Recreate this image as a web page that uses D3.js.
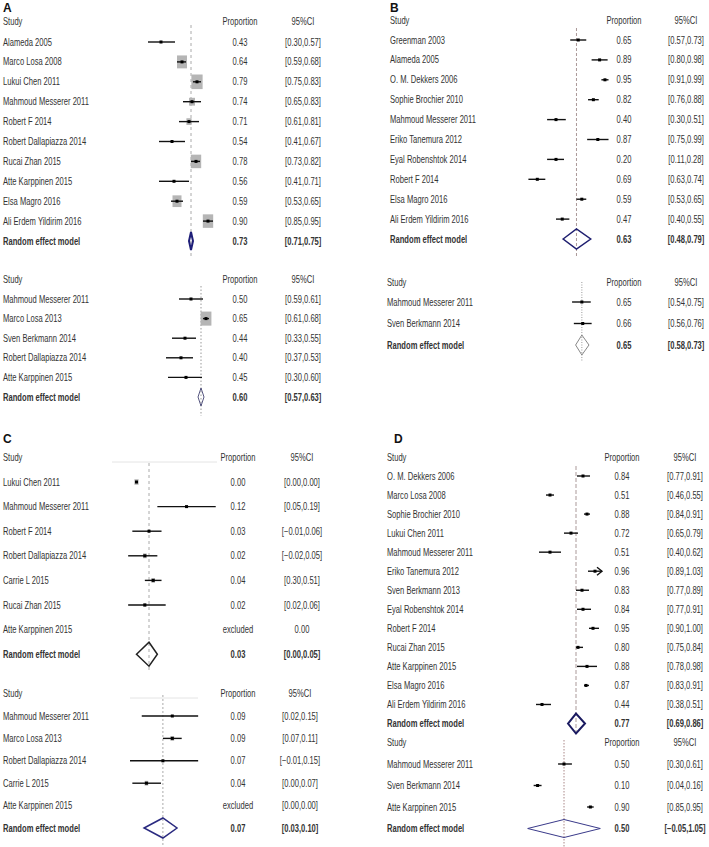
<!DOCTYPE html>
<html>
<head>
<meta charset="utf-8">
<script src="https://cdn.jsdelivr.net/npm/d3@7"></script>
<style>
  body { margin: 0; background: #fff; }
  text { font-family: "Liberation Sans", Arial, sans-serif; font-size: 10px; fill: #333; }
  .panel-label { font-weight: bold; font-size: 12px; fill: #111; }
</style>
</head>
<body>
<div id="chart"></div>
<script>
// ---- data ----
// plotted values (est/lo/hi) are where the marks sit; prop/ci are the printed columns

// A, upper
const aTopStudy = ['Alameda 2005', 'Marco Losa 2008', 'Lukui Chen 2011', 'Mahmoud Messerer 2011', 'Robert F 2014',
  'Robert Dallapiazza 2014', 'Rucai Zhan 2015', 'Atte Karppinen 2015', 'Elsa Magro 2016', 'Ali Erdem Yildirim 2016']
const aTopEst = [0.43, 0.64, 0.79, 0.74, 0.71, 0.54, 0.78, 0.56, 0.59, 0.90]
const aTopLo = [0.30, 0.59, 0.75, 0.65, 0.61, 0.41, 0.73, 0.41, 0.53, 0.85]
const aTopHi = [0.57, 0.68, 0.83, 0.83, 0.81, 0.67, 0.82, 0.71, 0.65, 0.95]
const aTopWt = [0, 11, 14, 4, 3, 0, 12, 0, 9, 12]
const aTopProp = ['0.43', '0.64', '0.79', '0.74', '0.71', '0.54', '0.78', '0.56', '0.59', '0.90']
const aTopCI = ['[0.30,0.57]', '[0.59,0.68]', '[0.75,0.83]', '[0.65,0.83]', '[0.61,0.81]',
  '[0.41,0.67]', '[0.73,0.82]', '[0.41,0.71]', '[0.53,0.65]', '[0.85,0.95]']
const aTopPooled = [0.73, 0.71, 0.75]
const aTopPooledText = ['0.73', '[0.71,0.75]']

// A, lower
const aBotStudy = ['Mahmoud Messerer 2011', 'Marco Losa 2013', 'Sven Berkmann 2014', 'Robert Dallapiazza 2014', 'Atte Karppinen 2015']
const aBotEst = [0.50, 0.65, 0.44, 0.40, 0.45]
const aBotLo = [0.38, 0.62, 0.31, 0.25, 0.27]
const aBotHi = [0.62, 0.68, 0.55, 0.52, 0.61]
const aBotWt = [0, 13, 0, 0, 0]
const aBotProp = ['0.50', '0.65', '0.44', '0.40', '0.45']
const aBotCI = ['[0.59,0.61]', '[0.61,0.68]', '[0.33,0.55]', '[0.37,0.53]', '[0.30,0.60]']
const aBotPooled = [0.60, 0.57, 0.63]
const aBotPooledText = ['0.60', '[0.57,0.63]']

// B, upper
const bTopStudy = ['Greenman 2003', 'Alameda 2005', 'O. M. Dekkers 2006', 'Sophie Brochier 2010', 'Mahmoud Messerer 2011',
  'Eriko Tanemura 2012', 'Eyal Robenshtok 2014', 'Robert F 2014', 'Elsa Magro 2016', 'Ali Erdem Yildirim 2016']
const bTopEst = [0.65, 0.89, 0.95, 0.82, 0.40, 0.87, 0.40, 0.19, 0.69, 0.47]
const bTopLo = [0.56, 0.80, 0.91, 0.76, 0.30, 0.75, 0.30, 0.09, 0.63, 0.40]
const bTopHi = [0.74, 0.98, 0.99, 0.88, 0.51, 0.99, 0.49, 0.28, 0.74, 0.55]
const bTopWt = [0, 0, 0, 0, 0, 0, 0, 0, 0, 0]
const bTopProp = ['0.65', '0.89', '0.95', '0.82', '0.40', '0.87', '0.20', '0.69', '0.59', '0.47']
const bTopCI = ['[0.57,0.73]', '[0.80,0.98]', '[0.91,0.99]', '[0.76,0.88]', '[0.30,0.51]',
  '[0.75,0.99]', '[0.11,0.28]', '[0.63,0.74]', '[0.53,0.65]', '[0.40,0.55]']
const bTopPooled = [0.63, 0.48, 0.79]
const bTopPooledText = ['0.63', '[0.48,0.79]']

// B, lower
const bBotStudy = ['Mahmoud Messerer 2011', 'Sven Berkmann 2014']
const bBotEst = [0.65, 0.66]
const bBotLo = [0.54, 0.56]
const bBotHi = [0.75, 0.76]
const bBotWt = [0, 0]
const bBotProp = ['0.65', '0.66']
const bBotCI = ['[0.54,0.75]', '[0.56,0.76]']
const bBotPooled = [0.65, 0.58, 0.73]
const bBotPooledText = ['0.65', '[0.58,0.73]']

// C, upper
const cTopStudy = ['Lukui Chen 2011', 'Mahmoud Messerer 2011', 'Robert F 2014', 'Robert Dallapiazza 2014',
  'Carrie L 2015', 'Rucai Zhan 2015', 'Atte Karppinen 2015']
const cTopEst = [0.00, 0.12, 0.03, 0.02, 0.04, 0.02, null]
const cTopLo = [0.00, 0.05, -0.01, -0.02, 0.02, -0.02, null]
const cTopHi = [0.00, 0.19, 0.06, 0.05, 0.06, 0.07, null]
const cTopWt = [2, 0, 0.5, 1.5, 1.5, 1, 0]
const cTopProp = ['0.00', '0.12', '0.03', '0.02', '0.04', '0.02', 'excluded']
const cTopCI = ['[0.00,0.00]', '[0.05,0.19]', '[\u22120.01,0.06]', '[\u22120.02,0.05]', '[0.30,0.51]', '[0.02,0.06]', '0.00']
const cTopPooled = [0.03, 0.00, 0.05]
const cTopPooledText = ['0.03', '[0.00,0.05]']

// C, lower
const cBotStudy = ['Mahmoud Messerer 2011', 'Marco Losa 2013', 'Robert Dallapiazza 2014', 'Carrie L 2015', 'Atte Karppinen 2015']
const cBotEst = [0.09, 0.09, 0.07, 0.035, null]
const cBotLo = [0.025, 0.07, 0.00, 0.005, null]
const cBotHi = [0.145, 0.11, 0.145, 0.066, null]
const cBotWt = [0, 1.5, 0, 1.5, 0]
const cBotProp = ['0.09', '0.09', '0.07', '0.04', 'excluded']
const cBotCI = ['[0.02,0.15]', '[0.07,0.11]', '[\u22120.01,0.15]', '[0.00,0.07]', '[0.00,0.00]']
const cBotPooled = [0.07, 0.03, 0.10]
const cBotPooledText = ['0.07', '[0.03,0.10]']

// D, upper
const dTopStudy = ['O. M. Dekkers 2006', 'Marco Losa 2008', 'Sophie Brochier 2010', 'Lukui Chen 2011', 'Mahmoud Messerer 2011',
  'Eriko Tanemura 2012', 'Sven Berkmann 2013', 'Eyal Robenshtok 2014', 'Robert F 2014', 'Rucai Zhan 2015',
  'Atte Karppinen 2015', 'Elsa Magro 2016', 'Ali Erdem Yildirim 2016']
const dTopEst = [0.84, 0.51, 0.88, 0.72, 0.51, 0.96, 0.83, 0.84, 0.94, 0.79, 0.88, 0.87, 0.43]
const dTopLo = [0.78, 0.47, 0.85, 0.65, 0.40, 0.89, 0.77, 0.78, 0.90, 0.77, 0.78, 0.85, 0.37]
const dTopHi = [0.91, 0.55, 0.91, 0.79, 0.62, 1.03, 0.90, 0.92, 1.00, 0.84, 0.98, 0.90, 0.52]
const dTopWt = [0, 0, 0, 0, 0, 0, 0, 0, 0, 0, 0, 0, 0]
const dTopProp = ['0.84', '0.51', '0.88', '0.72', '0.51', '0.96', '0.83', '0.84', '0.95', '0.80', '0.88', '0.87', '0.44']
const dTopCI = ['[0.77,0.91]', '[0.46,0.55]', '[0.84,0.91]', '[0.65,0.79]', '[0.40,0.62]', '[0.89,1.03]',
  '[0.77,0.89]', '[0.77,0.91]', '[0.90,1.00]', '[0.75,0.84]', '[0.78,0.98]', '[0.83,0.91]', '[0.38,0.51]']
const dTopArrow = [false, false, false, false, false, true, false, false, false, false, false, false, false]
const dTopPooled = [0.77, 0.69, 0.86]
const dTopPooledText = ['0.77', '[0.69,0.86]']

// D, lower
const dBotStudy = ['Mahmoud Messerer 2011', 'Sven Berkmann 2014', 'Atte Karppinen 2015']
const dBotEst = [0.50, 0.10, 0.90]
const dBotLo = [0.41, 0.04, 0.85]
const dBotHi = [0.62, 0.16, 0.95]
const dBotWt = [0, 0, 0]
const dBotProp = ['0.50', '0.10', '0.90']
const dBotCI = ['[0.30,0.61]', '[0.04,0.16]', '[0.85,0.95]']
const dBotPooled = [0.50, -0.05, 1.05]
const dBotPooledText = ['0.50', '[\u22120.05,1.05]']

// ---- layout of the eight sub-plots ----
const plots = [
  { study: aTopStudy, est: aTopEst, lo: aTopLo, hi: aTopHi, wt: aTopWt, prop: aTopProp, ci: aTopCI, pooled: aTopPooled, pooledText: aTopPooledText,
    nameX: 3, propX: 240, ciX: 303, headY: 21, rowY: 42, step: 19.9, domain: [0, 1], range: [118, 218], line: [25, 258], dash: '3,3', lineColor: '#aaa',
    dia: { color: '#1e1e78', w: 2, h: 9 } },
  { study: aBotStudy, est: aBotEst, lo: aBotLo, hi: aBotHi, wt: aBotWt, prop: aBotProp, ci: aBotCI, pooled: aBotPooled, pooledText: aBotPooledText,
    nameX: 3, propX: 240, ciX: 303, headY: 279, rowY: 299, step: 19.6, domain: [0, 1], range: [141, 241], line: [286, 416], dash: '1.5,2', lineColor: '#999',
    dia: { color: '#55557f', w: 1, h: 9 } },
  { study: bTopStudy, est: bTopEst, lo: bTopLo, hi: bTopHi, wt: bTopWt, prop: bTopProp, ci: bTopCI, pooled: bTopPooled, pooledText: bTopPooledText,
    nameX: 390, propX: 624, ciX: 686, headY: 20, rowY: 40, step: 19.9, domain: [0, 1], range: [520.4, 609.4], line: [28, 258], dash: '3,2', lineColor: '#a99',
    dia: { color: '#1f1f70', w: 1.5, h: 10 } },
  { study: bBotStudy, est: bBotEst, lo: bBotLo, hi: bBotHi, wt: bBotWt, prop: bBotProp, ci: bBotCI, pooled: bBotPooled, pooledText: bBotPooledText,
    nameX: 387, propX: 624, ciX: 686, headY: 282, rowY: 302, step: 21.5, domain: [0, 1], range: [524, 613], line: [282, 362], dash: '1,1.5', lineColor: '#999',
    dia: { color: '#888', w: 1, h: 10 } },
  { study: cTopStudy, est: cTopEst, lo: cTopLo, hi: cTopHi, wt: cTopWt, prop: cTopProp, ci: cTopCI, pooled: cTopPooled, pooledText: cTopPooledText,
    nameX: 3, propX: 238, ciX: 302, headY: 457, rowY: 482, step: 24.6, domain: [0, 0.1], range: [136.5, 178.2], line: [463, 670], dash: '3,3', lineColor: '#aaa',
    rule: [112, 217], dia: { color: '#222', w: 1.5, h: 12 } },
  { study: cBotStudy, est: cBotEst, lo: cBotLo, hi: cBotHi, wt: cBotWt, prop: cBotProp, ci: cBotCI, pooled: cBotPooled, pooledText: cBotPooledText,
    nameX: 3, propX: 238, ciX: 300, headY: 693, rowY: 716, step: 22.4, domain: [0, 0.1], range: [130, 177], line: [695, 846], dash: '2,2', lineColor: '#aaa',
    rule: [130, 198], dia: { color: '#2a2a80', w: 1.5, h: 10 } },
  { study: dTopStudy, est: dTopEst, lo: dTopLo, hi: dTopHi, wt: dTopWt, prop: dTopProp, ci: dTopCI, pooled: dTopPooled, pooledText: dTopPooledText,
    arrow: dTopArrow, nameX: 387, propX: 622, ciX: 685, headY: 457, rowY: 476, step: 19.04, domain: [0, 1], range: [499, 599], line: [466, 733], dash: '4,2', lineColor: '#a99',
    dia: { color: '#1a1a60', w: 2, h: 10 } },
  { study: dBotStudy, est: dBotEst, lo: dBotLo, hi: dBotHi, wt: dBotWt, prop: dBotProp, ci: dBotCI, pooled: dBotPooled, pooledText: dBotPooledText,
    nameX: 387, propX: 622, ciX: 685, headY: 742, rowY: 764, step: 21.5, domain: [0, 1], range: [531, 597], line: [740, 847], dash: '1.5,1.5', lineColor: '#a88',
    dia: { color: '#3a3a8a', w: 1, h: 9 } }
]

const panelLabels = [
  { t: 'A', x: 3, y: 12 }, { t: 'B', x: 390, y: 12 },
  { t: 'C', x: 3, y: 443 }, { t: 'D', x: 394, y: 443 }
]

const width = 709
const height = 847
// the original uses a narrow face; squeeze the regular one horizontally
const squeeze = 0.76

const svg = d3.select('#chart')
  .append('svg')
  .attr('width', width)
  .attr('height', height)

svg.selectAll('.panel-label')
  .data(panelLabels)
  .enter()
  .append('text')
  .attr('class', 'panel-label')
  .attr('x', d => d.x)
  .attr('y', d => d.y)
  .text(d => d.t)

function label (sel, x, y, txt, anchor, bold) {
  return sel.append('text')
    .attr('transform', 'translate(' + x + ',' + y + ') scale(' + squeeze + ',1)')
    .attr('dy', '0.35em')
    .attr('text-anchor', anchor || 'start')
    .attr('font-weight', bold ? 'bold' : null)
    .text(txt)
}

// box side grows with study weight
const boxSize = d3.scaleSqrt().domain([0, 16]).range([0, 12])

plots.forEach(p => {
  const g = svg.append('g')
  const x = d3.scaleLinear().domain(p.domain).range(p.range)
  const rows = p.study.map((s, i) => ({
    name: s, est: p.est[i], lo: p.lo[i], hi: p.hi[i], wt: p.wt[i],
    prop: p.prop[i], ci: p.ci[i], arrow: p.arrow ? p.arrow[i] : false,
    y: p.rowY + i * p.step
  }))
  const poolY = p.rowY + rows.length * p.step

  // header
  if (p.rule) {
    g.append('line')
      .attr('x1', p.rule[0]).attr('x2', p.rule[1])
      .attr('y1', p.headY + 5).attr('y2', p.headY + 5)
      .attr('stroke', '#e4e4e4')
  }
  label(g, p.nameX, p.headY, 'Study')
  label(g, p.propX, p.headY, 'Proportion', 'middle')
  label(g, p.ciX, p.headY, '95%CI', 'middle')

  // reference line at the pooled estimate
  g.append('line')
    .attr('x1', x(p.pooled[0])).attr('x2', x(p.pooled[0]))
    .attr('y1', p.line[0]).attr('y2', p.line[1])
    .attr('stroke', p.lineColor)
    .attr('stroke-dasharray', p.dash)

  // text columns
  rows.forEach(d => {
    label(g, p.nameX, d.y, d.name)
    label(g, p.propX, d.y, d.prop, 'middle')
    label(g, p.ciX, d.y, d.ci, 'middle')
  })

  const marks = g.selectAll('.mark')
    .data(rows.filter(d => d.est !== null))
    .enter()
    .append('g')
    .attr('class', 'mark')
    .attr('transform', d => 'translate(0,' + d.y + ')')

  // weight boxes
  marks.filter(d => d.wt > 0)
    .append('rect')
    .attr('x', d => x(d.est) - boxSize(d.wt) / 2)
    .attr('y', d => -boxSize(d.wt) * 0.65)
    .attr('width', d => boxSize(d.wt))
    .attr('height', d => boxSize(d.wt) * 1.3)
    .attr('fill', '#b5b5b5')

  // confidence intervals
  marks.append('line')
    .attr('x1', d => x(d.lo))
    .attr('x2', d => x(d.hi))
    .attr('stroke', '#111')
    .attr('stroke-width', 1.4)

  // arrow when the interval runs past the axis
  marks.filter(d => d.arrow)
    .append('path')
    .attr('d', d => 'M' + (x(d.hi) - 5) + ',-4L' + x(d.hi) + ',0L' + (x(d.hi) - 5) + ',4')
    .attr('fill', 'none')
    .attr('stroke', '#111')
    .attr('stroke-width', 1.4)

  // point estimate
  marks.append('rect')
    .attr('x', d => x(d.est) - 1.5)
    .attr('y', -1.5)
    .attr('width', 3)
    .attr('height', 3)
    .attr('fill', '#000')

  // pooled row
  label(g, p.nameX, poolY, 'Random effect model', 'start', true)
  label(g, p.propX, poolY, p.pooledText[0], 'middle', true)
  label(g, p.ciX, poolY, p.pooledText[1], 'middle', true)

  g.append('path')
    .attr('d', 'M' + x(p.pooled[1]) + ',' + poolY +
      'L' + x(p.pooled[0]) + ',' + (poolY - p.dia.h) +
      'L' + x(p.pooled[2]) + ',' + poolY +
      'L' + x(p.pooled[0]) + ',' + (poolY + p.dia.h) + 'Z')
    .attr('fill', 'none')
    .attr('stroke', p.dia.color)
    .attr('stroke-width', p.dia.w)
})
</script>
</body>
</html>
